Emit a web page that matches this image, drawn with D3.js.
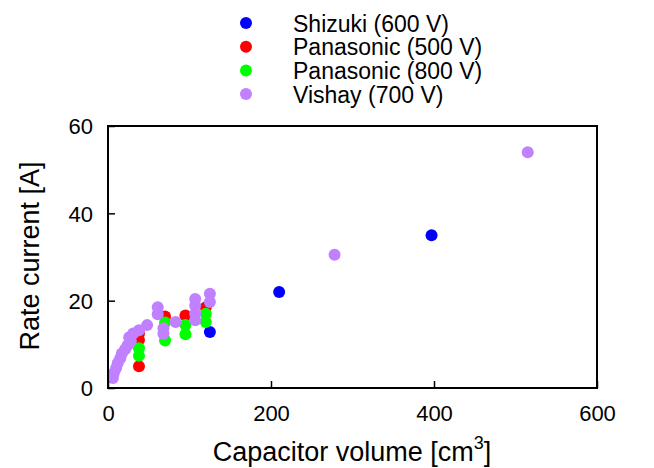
<!DOCTYPE html>
<html>
<head>
<meta charset="utf-8">
<script src="https://cdn.jsdelivr.net/npm/d3@7"></script>
<style>
  body { margin: 0; background: #fff; }
  text { font-family: "Liberation Sans", Arial, sans-serif; fill: #000; }
</style>
</head>
<body>
<div class="chart-area"></div>
<script>
// Capacitor volume vs rate current scatter

// ---- Data ----
const seriesNames = ["Shizuki (600 V)", "Panasonic (500 V)", "Panasonic (800 V)", "Vishay (700 V)"];
const seriesColors = ["#0000ff", "#ff0000", "#00ff00", "#c080ff"];

const shizuki = [[125, 12.8], [210, 22], [397, 35]];
const panasonic500 = [[38, 12.5], [38, 11], [38, 5], [70, 16.4], [95, 16.6], [120, 18.5]];
const panasonic800 = [[38, 9.1], [38, 7.4], [70, 15], [70, 10.9], [95, 14.4], [95, 12.3], [120, 17], [120, 15.1]];
const vishay = [
    [6, 2.3], [7, 3.4], [10, 4.6], [12, 5.7], [15, 6.8], [17, 7.9], [21, 8.9], [24, 9.8],
    [28, 10.7], [26, 11.6], [31, 12.5], [38, 13.2], [48, 14.4],
    [61, 18.5], [61, 16.9], [68, 13.7], [68, 12.4], [83, 15.1],
    [107, 20.4], [107, 18.9], [107, 17], [107, 15.5], [125, 21.6], [125, 19.7],
    [278, 30.5], [515, 54]
];
const allSeries = [shizuki, panasonic500, panasonic800, vishay];

const xTicks = [0, 200, 400, 600];
const yTicks = [0, 20, 40, 60];

// ---- Sizes ----
const svgWidth = 654, svgHeight = 468;
const plot = { left: 108, right: 597, top: 126, bottom: 388 };
const dotR = 6;

const svg = d3.select(".chart-area").append("svg")
    .attr("width", svgWidth)
    .attr("height", svgHeight);

const x = d3.scaleLinear().domain([0, 600]).range([plot.left, plot.right]);
const y = d3.scaleLinear().domain([0, 60]).range([plot.bottom, plot.top]);

// clip points to plot box
svg.append("defs").append("clipPath").attr("id", "clip")
    .append("rect")
    .attr("x", plot.left).attr("y", plot.top)
    .attr("width", plot.right - plot.left)
    .attr("height", plot.bottom - plot.top);

// Points
const pts = svg.append("g").attr("clip-path", "url(#clip)");
allSeries.forEach((data, i) => {
    pts.append("g").selectAll("circle")
        .data(data)
        .join("circle")
        .attr("cx", d => x(d[0]))
        .attr("cy", d => y(d[1]))
        .attr("r", dotR)
        .attr("fill", seriesColors[i]);
});

// Axes (ticks pointing inward, no mirror)
const xAxis = svg.append("g")
    .attr("transform", `translate(0, ${plot.bottom})`)
    .call(d3.axisBottom(x).tickValues(xTicks).tickSizeInner(-7).tickSizeOuter(0).tickPadding(17));
const yAxis = svg.append("g")
    .attr("transform", `translate(${plot.left}, 0)`)
    .call(d3.axisLeft(y).tickValues(yTicks).tickSizeInner(-7).tickSizeOuter(0).tickPadding(15));

[xAxis, yAxis].forEach(a => {
    a.select(".domain").remove();
    a.selectAll(".tick line").attr("stroke", "#000").attr("stroke-width", 1.5);
    a.selectAll(".tick text")
        .style("font-family", '"Liberation Sans", Arial, sans-serif')
        .style("font-size", "22px")
        .attr("fill", "#000");
});
yAxis.selectAll(".tick text").attr("dy", "0.36em");

// Frame
svg.append("rect")
    .attr("x", plot.left).attr("y", plot.top)
    .attr("width", plot.right - plot.left)
    .attr("height", plot.bottom - plot.top)
    .attr("fill", "none")
    .attr("stroke", "#000")
    .attr("stroke-width", 2);

// Axis titles
const xTitle = svg.append("text")
    .attr("x", 352)
    .attr("y", 461)
    .attr("text-anchor", "middle")
    .style("font-size", "27px");
xTitle.append("tspan").text("Capacitor volume [cm");
xTitle.append("tspan").attr("dy", -12).style("font-size", "18px").text("3");
xTitle.append("tspan").attr("dy", 12).text("]");

svg.append("text")
    .attr("transform", `translate(39, 256) rotate(-90)`)
    .attr("text-anchor", "middle")
    .style("font-size", "27px")
    .text("Rate current [A]");

// Legend
const legend = svg.append("g");
seriesNames.forEach((name, i) => {
    const cy = 23 + i * 23.7;
    legend.append("circle")
        .attr("cx", 246).attr("cy", cy).attr("r", dotR)
        .attr("fill", seriesColors[i]);
    legend.append("text")
        .attr("x", 293).attr("y", cy + 8.5)
        .style("font-size", "23px")
        .text(name);
});
</script>
</body>
</html>
